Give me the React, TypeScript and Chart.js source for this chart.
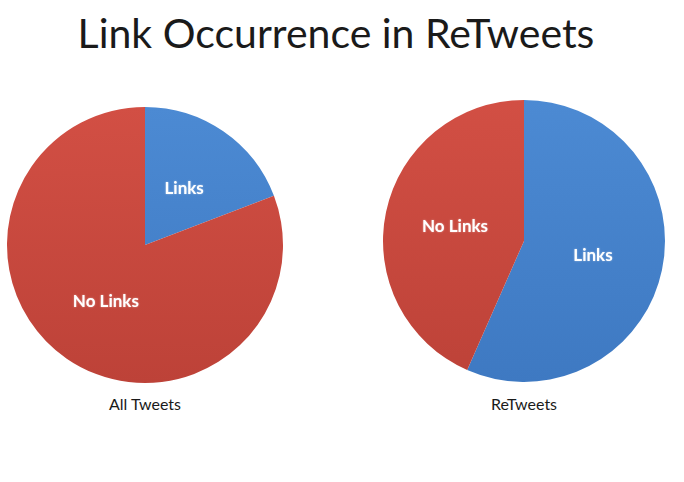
import React, { useEffect, useRef } from "react";
import { Chart, registerables } from "chart.js";

Chart.register(...registerables);

const sliceLabels = ["Links", "No Links"];
const allTweets = [19.2, 80.8];
const reTweets = [56.6, 43.4];

const blueTop = "#4c8ad3";
const blueBottom = "#3e79c2";
const redTop = "#d24f44";
const redBottom = "#bd4238";

const sliceLabelPlugin = {
  id: "sliceLabels",
  afterDatasetsDraw(chart: any) {
    const ctx = chart.ctx;
    const meta = chart.getDatasetMeta(0);
    ctx.save();
    ctx.font = "bold 17px Lato, 'Open Sans', sans-serif";
    ctx.fillStyle = "#ffffff";
    ctx.textAlign = "center";
    ctx.textBaseline = "middle";
    ctx.shadowColor = "rgba(255,255,255,0.5)";
    ctx.shadowBlur = 2;
    meta.data.forEach((arc: any, i: number) => {
      const pos = arc.tooltipPosition(false);
      ctx.fillText(chart.data.labels[i], pos.x, pos.y);
    });
    ctx.restore();
  },
};

const PieChart: React.FC<{ values: number[]; pad: number }> = ({ values, pad }) => {
  const chartRef = useRef<HTMLCanvasElement>(null);
  const chartInstance = useRef<Chart>();

  useEffect(() => {
    if (!chartRef.current) return;
    const ctx = chartRef.current.getContext("2d");
    if (!ctx) return;
    if (chartInstance.current) chartInstance.current.destroy();

    const fill = (c: any) => {
      const area = c.chart.chartArea;
      const [top, bottom] = c.dataIndex === 0 ? [blueTop, blueBottom] : [redTop, redBottom];
      if (!area) return top;
      const g = c.chart.ctx.createLinearGradient(0, area.top, 0, area.bottom);
      g.addColorStop(0, top);
      g.addColorStop(1, bottom);
      return g;
    };

    chartInstance.current = new Chart(ctx, {
      type: "pie",
      data: {
        labels: sliceLabels,
        datasets: [
          {
            data: values,
            backgroundColor: fill,
            borderWidth: 0,
          },
        ],
      },
      options: {
        animation: false,
        responsive: true,
        maintainAspectRatio: false,
        layout: { padding: pad },
        plugins: {
          legend: { display: false },
          tooltip: { enabled: false },
        },
      },
      plugins: [sliceLabelPlugin],
    });

    return () => {
      if (chartInstance.current) chartInstance.current.destroy();
    };
  }, [values, pad]);

  return <canvas ref={chartRef} />;
};

const App: React.FC = () => {
  return (
    <div style={styles.page}>
      <div style={styles.title}>Link Occurrence in ReTweets</div>
      <div style={{ ...styles.pie, left: 0, top: 100 }}>
        <PieChart values={allTweets} pad={7} />
      </div>
      <div style={{ ...styles.caption, left: 0 }}>All Tweets</div>
      <div style={{ ...styles.pie, left: 379, top: 96 }}>
        <PieChart values={reTweets} pad={4} />
      </div>
      <div style={{ ...styles.caption, left: 379 }}>ReTweets</div>
    </div>
  );
};

const styles: Record<string, React.CSSProperties> = {
  page: {
    position: "fixed",
    left: 0,
    top: 0,
    width: 684,
    height: 482,
    background: "#ffffff",
    fontFamily: "Lato, 'Open Sans', sans-serif",
    overflow: "hidden",
  },
  title: {
    position: "absolute",
    left: 0,
    top: 8,
    width: 672,
    textAlign: "center",
    fontSize: 41,
    color: "#1a1a1a",
    lineHeight: "50px",
  },
  pie: {
    position: "absolute",
    width: 290,
    height: 290,
  },
  caption: {
    position: "absolute",
    top: 394,
    width: 290,
    textAlign: "center",
    fontSize: 16,
    color: "#1a1a1a",
  },
};

export default App;
